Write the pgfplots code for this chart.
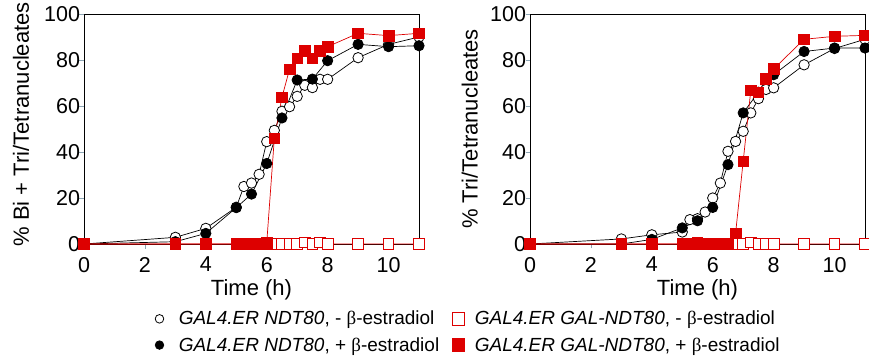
\documentclass[border=0pt]{standalone}
\usepackage{pgfplots}
\pgfplotsset{compat=1.18}
\usepackage{fontspec}
\setmainfont{Liberation Sans}
\newfontfamily\serifb{Liberation Serif}
\newcommand{\be}{{\serifb β}}
\definecolor{myred}{RGB}{221,0,0}
\definecolor{tickc}{RGB}{140,165,180}

\pgfplotsset{
 myaxis/.style={
  scale only axis, width=335bp, height=230bp,
  xmin=0, xmax=11, ymin=0, ymax=100,
  xtick={0,2,...,10}, ytick={0,20,...,100},
  tick pos=left, tick align=outside, major tick length=4.5bp,
  every tick/.style={tickc, line width=0.8pt},
  axis line style={black, line width=0.8pt},
  clip=false,
  tick label style={font=\fontsize{21.5bp}{24bp}\selectfont},
  xticklabel style={yshift=-5bp},
  yticklabel style={xshift=4bp},
  label style={font=\fontsize{22bp}{25bp}\selectfont},
  /pgf/number format/assume math mode=true,
  xlabel={Time (h)},
  xlabel style={at={(axis description cs:0.5,-0.2)}, anchor=center},
 },
 oc/.style={black, line width=0.7pt, mark=*, mark size=5.2bp, mark options={fill=white, draw=black, line width=0.8pt},
   legend image code/.code={\draw[##1, only marks, mark size=4.3bp] plot coordinates {(0bp,0bp)};}},
 fc/.style={black, line width=0.7pt, mark=*, mark size=5.2bp, mark options={fill=black, draw=black},
   legend image code/.code={\draw[##1, only marks, mark size=4.3bp] plot coordinates {(0bp,0bp)};}},
 os/.style={myred, line width=0.7pt, mark=square*, mark size=5.3bp, mark options={fill=white, draw=myred, line width=0.8pt},
   legend image code/.code={\draw[##1, only marks, mark size=6.3bp] plot coordinates {(0bp,0bp)};}},
 fs/.style={myred, line width=0.7pt, mark=square*, mark size=5.3bp, mark options={fill=myred, draw=myred},
   legend image code/.code={\draw[##1, only marks, mark size=6.3bp] plot coordinates {(0bp,0bp)};}},
}

\begin{document}
\begin{tikzpicture}
\useasboundingbox (0,0) rectangle (869bp,358bp);

\begin{axis}[myaxis, at={(84bp,114bp)}, anchor=south west,
  ylabel={\% Bi + Tri/Tetranucleates},
  ylabel style={at={(axis description cs:-0.188,0.52)}, anchor=center},
  legend style={at={(axis description cs:0.203,-0.274)}, anchor=north west, draw=none, fill=none,
    font=\fontsize{19bp}{21bp}\selectfont, row sep=7bp,
    /tikz/column 1/.style={column sep=13bp},
    /tikz/column 2/.style={column sep=11bp},
    /tikz/column 3/.style={column sep=8bp}},
  legend columns=2, transpose legend, legend cell align=left]
\addplot[oc] coordinates {(0,0) (3,2.9) (4,6.8) (5,16) (5.25,25) (5.5,26.5) (5.75,30.3) (6,44.5) (6.25,49.4) (6.5,57.7) (6.75,59.7) (7,64.2) (7.25,69) (7.5,68) (7.75,71.6) (8,71.6) (9,81) (10,86.8) (11,90)};
\addlegendentry{\textit{GAL4.ER NDT80}, - \be-estradiol}
\addplot[fc] coordinates {(0,0) (3,1) (4,4.6) (5,15.8) (5.5,21.7) (6,35) (6.5,54.8) (7,71.3) (7.5,71.7) (8,79.7) (9,86.8) (10,85.8) (11,86.2)};
\addlegendentry{\textit{GAL4.ER NDT80}, + \be-estradiol}
\addplot[os] coordinates {(0,0) (3,0) (4,0) (5,0) (5.25,0) (5.5,0) (5.75,0) (6,0) (6.25,0) (6.5,0) (6.75,0) (7,0) (7.25,0.7) (7.5,0) (7.75,0.7) (8,0) (9,0) (10,0) (11,0)};
\addlegendentry{\textit{GAL4.ER GAL-NDT80}, - \be-estradiol}
\addplot[fs] coordinates {(0,0) (3,0) (4,0) (5,0) (5.25,0) (5.5,0) (5.75,0) (6,0.5) (6.25,46) (6.5,63.8) (6.75,76) (7,80.7) (7.25,83.9) (7.5,80.7) (7.75,83.9) (8,85.8) (9,91.6) (10,90.6) (11,91.6)};
\addlegendentry{\textit{GAL4.ER GAL-NDT80}, + \be-estradiol}
\end{axis}

\begin{axis}[myaxis, at={(530bp,114bp)}, anchor=south west,
  ylabel={\% Tri/Tetranucleates},
  ylabel style={at={(axis description cs:-0.18,0.5)}, anchor=center}]
\addplot[oc] coordinates {(0,0) (3,2.2) (4,4) (5,5.2) (5.25,10.6) (5.5,11) (5.75,13.9) (6,20) (6.25,26.5) (6.5,40.3) (6.75,44.6) (7,49) (7.25,57) (7.5,63.2) (7.75,67.2) (8,67.9) (9,77.9) (10,85) (11,89)};
\addplot[fc] coordinates {(0,0) (3,0) (4,2) (5,7) (5.5,10.1) (6,15.9) (6.5,34.5) (7,57) (7.5,66) (8,73.6) (9,83.7) (10,85.2) (11,85.2)};
\addplot[os] coordinates {(0,0) (3,0) (4,0) (5,0) (5.25,0) (5.5,0) (5.75,0) (6,0) (6.25,0) (6.5,0) (6.75,0) (7,0) (7.25,0.7) (7.5,0) (7.75,0) (8,0) (9,0) (10,0) (11,0)};
\addplot[fs] coordinates {(0,0) (3,0) (4,0) (5,0) (5.25,0) (5.5,0.6) (5.75,0) (6,0) (6.25,0) (6.5,0) (6.75,4.6) (7,36) (7.25,66.8) (7.5,66) (7.75,71.8) (8,76.1) (9,89) (10,90.3) (11,90.7)};
\end{axis}
\end{tikzpicture}
\end{document}
